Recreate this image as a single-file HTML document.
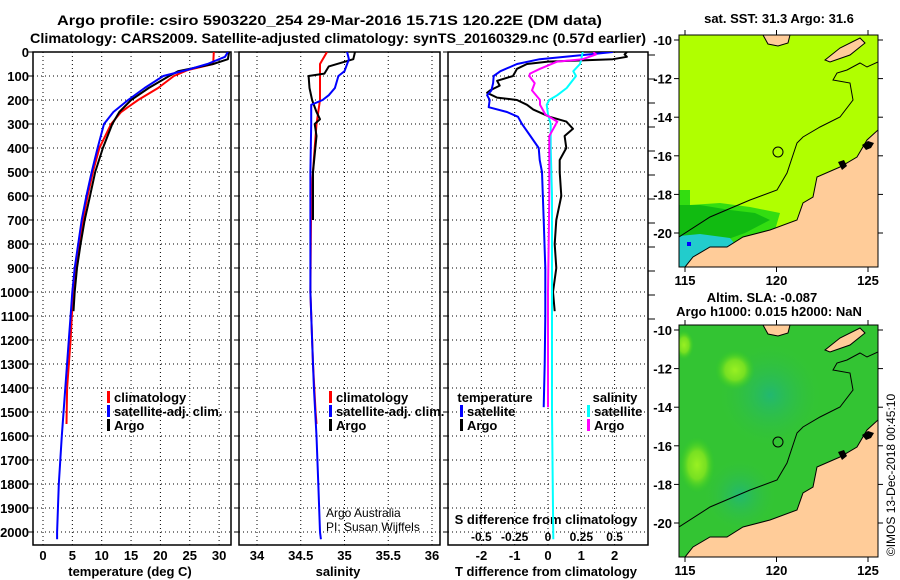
<!DOCTYPE html>
<html><head><meta charset="utf-8">
<style>
html,body{margin:0;padding:0;background:#fff;}
svg{display:block;font-family:"Liberation Sans",Arial,sans-serif;}
.b{font-weight:bold;}
</style></head>
<body>
<svg id="fig" width="900" height="580" viewBox="0 0 900 580" xmlns="http://www.w3.org/2000/svg">
<text class="b" x="57" y="25" font-size="14" textLength="545" lengthAdjust="spacingAndGlyphs">Argo profile: csiro 5903220_254 29-Mar-2016 15.71S 120.22E (DM data)</text>
<text class="b" x="30" y="43" font-size="14" textLength="616" lengthAdjust="spacingAndGlyphs">Climatology: CARS2009. Satellite-adjusted climatology: synTS_20160329.nc (0.57d earlier)</text>
<g id="plots"></g>

<!-- SST map -->
<g>
<text class="b" x="779" y="23" font-size="13" text-anchor="middle">sat. SST: 31.3 Argo: 31.6</text>
<clipPath id="c1"><rect x="679" y="35" width="199" height="232"/></clipPath>
<g clip-path="url(#c1)">
<rect x="679" y="35" width="199" height="232" fill="#b0ff00"/>
<polygon points="679,190 690,190 690,205 720,203 750,207 780,213 775,230 740,243 700,262 679,267" fill="#33dd11"/>
<polygon points="679,205 700,205 730,210 755,213 770,220 745,233 720,242 700,255 679,267" fill="#11bb11"/>
<polygon points="679,236 700,234 730,238 735,244 700,262 685,267 679,267" fill="#22cccc"/>
<rect x="687" y="242" width="4" height="4" fill="#0000ff"/>
<polygon points="878,130 867,140 857,157 840,167 817,177 813,197 803,203 797,220 770,230 743,237 727,247 710,247 693,257 685,267 878,267" fill="#ffcc99" stroke="#000" stroke-width="1"/>
<polygon points="763,35 790,35 788,43 778,46 768,44" fill="#ffcc99" stroke="#000"/>
<polygon points="825,60 840,48 860,38 865,43 850,55 830,62" fill="#ffcc99" stroke="#000"/>
<polyline points="679,237 710,217 750,200 777,190 787,173 797,143 803,137 820,127 840,117 853,100 850,83 833,80 837,73 847,70 860,63 867,67 878,62" fill="none" stroke="#000" stroke-width="1"/>
<path d="M862 145 l6 -4 l6 2 l-3 5 l-5 2 z M838 162 l6 -2 l3 6 l-5 4 z" fill="#000"/>
<circle cx="778" cy="152" r="5" fill="none" stroke="#000"/>
</g>
<rect x="679" y="35" width="199" height="232" fill="none" stroke="#000"/>
</g>

<!-- SLA map -->
<g>
<text class="b" x="762" y="302" font-size="13" text-anchor="middle">Altim. SLA: -0.087</text>
<text class="b" x="769" y="316" font-size="13" text-anchor="middle">Argo h1000: 0.015 h2000: NaN</text>
<defs>
<radialGradient id="g1"><stop offset="0" stop-color="#99f022"/><stop offset="0.5" stop-color="#77e022"/><stop offset="1" stop-color="#33cc22" stop-opacity="0"/></radialGradient>
<radialGradient id="g2"><stop offset="0" stop-color="#22b870"/><stop offset="1" stop-color="#33c040" stop-opacity="0"/></radialGradient>
</defs>
<clipPath id="c2"><rect x="679" y="325" width="199" height="232"/></clipPath>
<g clip-path="url(#c2)">
<rect x="679" y="325" width="199" height="232" fill="#33c433"/>
<ellipse cx="770" cy="395" rx="50" ry="50" fill="url(#g2)"/>
<ellipse cx="740" cy="495" rx="35" ry="35" fill="url(#g2)"/>
<ellipse cx="697" cy="465" rx="18" ry="28" fill="url(#g1)"/>
<ellipse cx="735" cy="370" rx="20" ry="20" fill="url(#g1)"/>
<ellipse cx="684" cy="345" rx="10" ry="15" fill="url(#g1)"/>
<polygon points="878,420 867,430 857,447 840,457 817,467 813,487 803,493 797,510 770,520 743,527 727,537 710,537 693,547 685,557 878,557" fill="#ffcc99" stroke="#000" stroke-width="1"/>
<polygon points="763,325 790,325 788,333 778,336 768,334" fill="#ffcc99" stroke="#000"/>
<polygon points="825,350 840,338 860,328 865,333 850,345 830,352" fill="#ffcc99" stroke="#000"/>
<polyline points="679,527 710,507 750,490 777,480 787,463 797,433 803,427 820,417 840,407 853,390 850,373 833,370 837,363 847,360 860,353 867,357 878,352" fill="none" stroke="#000" stroke-width="1"/>
<path d="M862 435 l6 -4 l6 2 l-3 5 l-5 2 z M838 452 l6 -2 l3 6 l-5 4 z" fill="#000"/>
<circle cx="778" cy="442" r="5" fill="none" stroke="#000"/>
</g>
<rect x="679" y="325" width="199" height="232" fill="none" stroke="#000"/>
<text x="895" y="475" font-size="12" transform="rotate(-90 895 475)" text-anchor="middle">©IMOS 13-Dec-2018 00:45:10</text>
</g>
</svg>
<script>
// ---- data (depth in dbar) ----
const tClimDepth = [0,50,75,100,150,200,250,300,400,500,600,700,800,900,1000,1100,1200,1400,1550];
const tClimVal   = [29.1,29,24.7,22.3,19.6,16.2,13.3,11.6,9.6,8.5,7.6,6.8,6.2,5.6,5.2,4.9,4.7,4.1,4.0];
const tSatDepth  = [0,20,50,75,100,150,200,250,300,400,500,600,700,800,900,1000,1100,1200,1400,1600,1800,2000,2030];
const tSatVal    = [31.5,31,28,24.5,20.5,17.3,14.5,12,10.4,9.3,8.3,7.4,6.6,6.0,5.4,5.0,4.7,4.4,3.8,3.2,2.7,2.4,2.4];
const tArgoDepth = [0,30,50,80,100,150,200,250,300,400,500,600,700,800,900,1000,1080];
const tArgoVal   = [31.7,31.5,29,23,21.5,18,15,13,11.8,10.2,8.9,8,7.1,6.4,5.8,5.4,5.2];

const sClimDepth = [0,50,100,200,300,400,600,1000,1300,1500,1550];
const sClimVal   = [34.80,34.72,34.72,34.72,34.68,34.66,34.62,34.61,34.64,34.67,34.68];
const sSatDepth  = [0,30,80,100,150,180,200,220,300,500,1000,1200,1400,1600,1800,2000,2030];
const sSatVal    = [35.03,35.05,35.0,34.93,34.89,34.82,34.75,34.62,34.62,34.61,34.61,34.63,34.65,34.68,34.70,34.72,34.73];
const sArgoDepth = [0,30,60,90,100,150,200,250,280,300,350,500,700];
const sArgoVal   = [35.12,35.1,34.82,34.77,34.59,34.6,34.63,34.68,34.72,34.66,34.68,34.64,34.64];

const dTArgoDepth = [0,10,20,30,40,50,70,100,120,140,160,170,190,200,220,240,270,290,320,350,400,450,500,600,700,800,900,1000,1080];
const dTArgoVal   = [2.37,2.3,2.37,1.95,0,-0.63,-0.93,-1.05,-1.53,-1.45,-1.74,-1.83,-1.53,-0.93,-0.63,-0.44,0.05,0.55,0.75,0.5,0.55,0.35,0.35,0.4,0.25,0.2,0.25,0.15,0.2];
const dTSatDepth  = [0,10,30,50,80,100,130,160,180,200,230,250,270,300,350,400,450,500,700,900,1100,1300,1480];
const dTSatVal    = [1.95,1.25,-0.25,-0.93,-1.43,-1.63,-1.65,-1.7,-1.83,-1.75,-1.78,-1.23,-0.9,-0.78,-0.53,-0.28,-0.25,-0.18,-0.13,-0.08,-0.08,-0.1,-0.13];
const dSArgoDepth = [0,10,30,40,70,90,100,130,160,200,220,240,260,290,320,350,400,600,1000,1480];
const dSArgoVal   = [0.34,0.36,0.26,0.07,-0.06,-0.135,-0.14,-0.1,-0.12,-0.06,-0.06,-0.04,-0.02,0.07,0.04,0.01,0.01,0.01,0.0,0.0];
const dSSatDepth  = [0,30,50,80,100,150,180,200,220,260,300,400,600,1000,1500,2030];
const dSSatVal    = [0.26,0.25,0.24,0.19,0.21,0.14,0.07,0.01,-0.01,0.0,0.02,0.02,0.03,0.03,0.03,0.04];

const depthTicks = [0,100,200,300,400,500,600,700,800,900,1000,1100,1200,1300,1400,1500,1600,1700,1800,1900,2000];
const tempTicks = [0,5,10,15,20,25,30];
const salTicks = [34,34.5,35,35.5,36];
const salTickLabels = ["34","34.5","35","35.5","36"];
const dTTicks = [-2,-1,0,1,2];
const dSTicks = [-0.5,-0.25,0,0.25,0.5];
const dSTickLabels = ["-0.5","-0.25","0","0.25","0.5"];

const NS="http://www.w3.org/2000/svg";
const root=document.getElementById('plots');
const TOP=52, BOT=545;
const yD = d => TOP + d*0.24;
function mk(tag,attrs,parent){const e=document.createElementNS(NS,tag);for(const k in attrs)e.setAttribute(k,attrs[k]);(parent||root).appendChild(e);return e;}

const panels=[
 {x0:33,x1:231,xv:v=>43+v*5.87,name:'temperature-panel'},
 {x0:239,x1:440,xv:v=>257+(v-34)*87.5,name:'salinity-panel'},
 {x0:448,x1:648,xv:v=>548+v*33.3,name:'difference-panel'}
];
const xS = v => 548+v*133.3;

panels.forEach((p,i)=>{
  const g=mk('g',{});
  
  
  depthTicks.forEach(d=>{
    const l=mk('line',{x1:p.x0,x2:p.x1,y1:yD(d),y2:yD(d),stroke:'#000','stroke-width':1,'stroke-dasharray':'1,3'},g);
    
    
    mk('line',{x1:p.x0-5,x2:p.x0,y1:yD(d),y2:yD(d),stroke:'#000'},g);
  });
  const vt = i===0?tempTicks:(i===1?salTicks:dTTicks);
  vt.forEach(v=>{
    const l=mk('line',{x1:p.xv(v),x2:p.xv(v),y1:TOP,y2:BOT,stroke:'#000','stroke-width':1,'stroke-dasharray':'1,3'},g);
    
    
  });
  const fr=mk('rect',{x:p.x0,y:TOP,width:p.x1-p.x0,height:BOT-TOP,fill:'none',stroke:'#000','stroke-width':1.5},g);
  
  
});
depthTicks.forEach(d=>{ if(d<=1100) mk('line',{x1:648,x2:655,y1:yD(d)+3,y2:yD(d)+3,stroke:'#000'}); });

depthTicks.forEach(d=>{
  const t=mk('text',{x:29,y:yD(d)+5,'font-size':13,'font-weight':'bold','text-anchor':'end'});
  t.textContent=d;
  
  
});
function xlab(x,y,s,name,fs){const t=mk('text',{x:x,y:y,'font-size':fs||13,'font-weight':'bold','text-anchor':'middle'});t.textContent=s;return t;}
tempTicks.forEach(v=>xlab(panels[0].xv(v),560,String(v),'temp-tick-label'));
salTicks.forEach((v,k)=>xlab(panels[1].xv(v),560,salTickLabels[k],'sal-tick-label'));
dTTicks.forEach(v=>xlab(panels[2].xv(v),560,String(v),'dT-tick-label'));
dSTicks.forEach((v,k)=>xlab(xS(v),541,dSTickLabels[k],'dS-tick-label',12));
xlab(130,576,'temperature (deg C)','x-axis-title-temperature');
xlab(338,576,'salinity','x-axis-title-salinity');
xlab(546,576,'T difference from climatology','x-axis-title-T-diff');
xlab(546,524,'S difference from climatology','x-axis-title-S-diff');

function series(depths,vals,xf,color,name,clip){
  const pts=depths.map((d,k)=>xf(vals[k]).toFixed(1)+','+yD(d).toFixed(1)).join(' ');
  const pl=mk('polyline',{points:pts,fill:'none',stroke:color,'stroke-width':2,'stroke-linejoin':'round','clip-path':clip});
  
  
}
['cp0','cp1','cp2'].forEach((id,i)=>{const c=mk('clipPath',{id:id});mk('rect',{x:panels[i].x0,y:TOP,width:panels[i].x1-panels[i].x0,height:BOT-TOP},c);});
const P=panels;
series(tClimDepth,tClimVal,P[0].xv,'#ff0000','temp-climatology-line','url(#cp0)');
series(tArgoDepth,tArgoVal,P[0].xv,'#000000','temp-argo-line','url(#cp0)');
series(tSatDepth,tSatVal,P[0].xv,'#0000ff','temp-satellite-line','url(#cp0)');
series(sClimDepth,sClimVal,P[1].xv,'#ff0000','sal-climatology-line','url(#cp1)');
series(sArgoDepth,sArgoVal,P[1].xv,'#000000','sal-argo-line','url(#cp1)');
series(sSatDepth,sSatVal,P[1].xv,'#0000ff','sal-satellite-line','url(#cp1)');
series(dTArgoDepth,dTArgoVal,P[2].xv,'#000000','dT-argo-line','url(#cp2)');
series(dTSatDepth,dTSatVal,P[2].xv,'#0000ff','dT-satellite-line','url(#cp2)');
series(dSSatDepth,dSSatVal,xS,'#00ffff','dS-satellite-line','url(#cp2)');
series(dSArgoDepth,dSArgoVal,xS,'#ff00ff','dS-argo-line','url(#cp2)');

function leg(x,y,color,label,name){
  const b=mk('rect',{x:x,y:y-11,width:3,height:12,fill:color});
  
  
  const t=mk('text',{x:x+7,y:y,'font-size':13,'font-weight':'bold'});
  t.textContent=label;
  
  
}
leg(107,402,'#ff0000','climatology','legend-climatology');
leg(107,416,'#0000ff','satellite-adj. clim.','legend-satellite');
leg(107,430,'#000000','Argo','legend-argo');
leg(329,402,'#ff0000','climatology','legend-sal-climatology');
leg(329,416,'#0000ff','satellite-adj. clim.','legend-sal-satellite');
leg(329,430,'#000000','Argo','legend-sal-argo');
xlab(495,402,'temperature','legend-temperature-heading');
leg(460,416,'#0000ff','satellite','legend-dT-satellite');
leg(460,430,'#000000','Argo','legend-dT-argo');
xlab(615,402,'salinity','legend-salinity-heading');
leg(587,416,'#00ffff','satellite','legend-dS-satellite');
leg(587,430,'#ff00ff','Argo','legend-dS-argo');
const a1=mk('text',{x:326,y:517,'font-size':12});a1.textContent='Argo Australia';


const a2=mk('text',{x:326,y:531,'font-size':12});a2.textContent='PI: Susan Wijffels';



function mapAxes(y0,y1,latTop){
  [115,120,125].forEach(lon=>{
    const x=685+(lon-115)*18.3;
    mk('line',{x1:x,x2:x,y1:y1,y2:y1+5,stroke:'#000'});mk('line',{x1:x,x2:x,y1:y0-5,y2:y0,stroke:'#000'});
    xlab(x,y1+18,String(lon),'map-lon-label');
  });
  [-10,-12,-14,-16,-18,-20].forEach(lat=>{
    const y=latTop+(-10-lat)*19.3;
    mk('line',{x1:674,x2:679,y1:y,y2:y,stroke:'#000'});mk('line',{x1:878,x2:883,y1:y,y2:y,stroke:'#000'});
    const t=mk('text',{x:672,y:y+5,'font-size':13,'font-weight':'bold','text-anchor':'end'});t.textContent=lat;
    
    
  });
}
mapAxes(35,267,40);
mapAxes(325,557,330);
</script>
</body></html>
